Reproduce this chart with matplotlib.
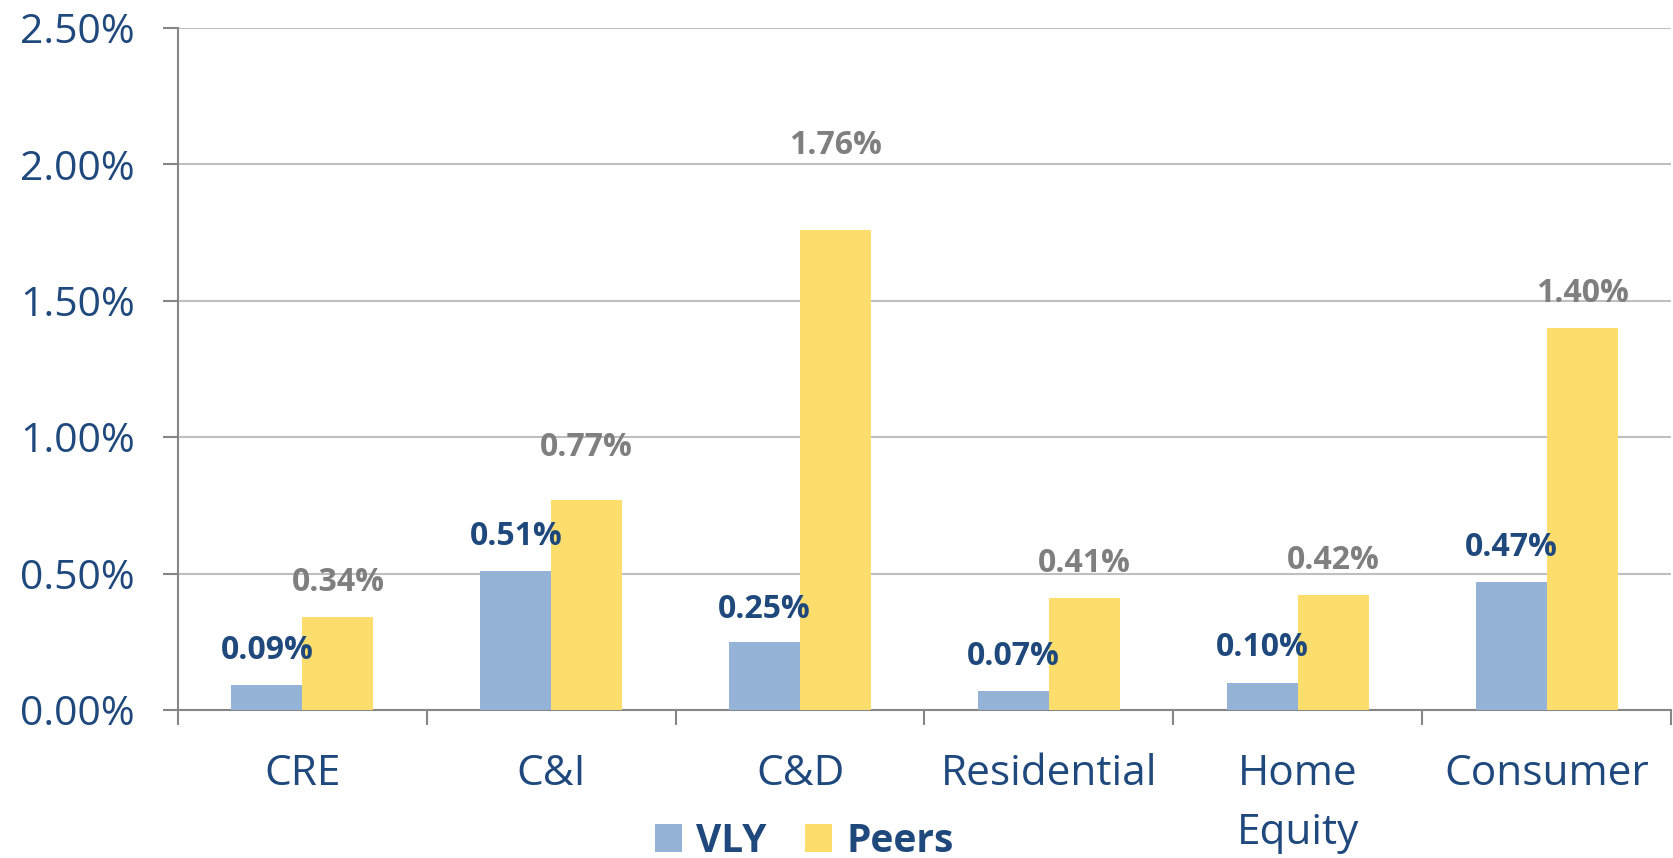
import matplotlib
matplotlib.use("Agg")
import matplotlib.pyplot as plt
import numpy as np
from matplotlib.ticker import FixedLocator, FuncFormatter

categories = ["CRE", "C&I", "C&D", "Residential", "Home\nEquity", "Consumer"]
vly = [0.09, 0.51, 0.25, 0.07, 0.10, 0.47]
peers = [0.34, 0.77, 1.76, 0.41, 0.42, 1.40]
yticks = [0.0, 0.5, 1.0, 1.5, 2.0, 2.5]

# label offsets above bar tops (points) - style only
vly_offsets = [25, 25, 23, 25, 25, 25]
peers_offsets = [25, 38, 61, 25, 25, 25]

plt.rcParams['font.family'] = ['Open Sans', 'DejaVu Sans']

BLUE = "#95B3D7"
YELLOW = "#FDDE6C"
DARK = "#1F497D"
GREY = "#7F7F7F"

fig = plt.figure(figsize=(16.74, 8.58), dpi=100)
ax = fig.add_axes([178/1674, 1 - 710/858, (1671-178)/1674, (710-28)/858])

x = np.arange(len(categories))
w = 0.285
b1 = ax.bar(x - w/2, vly, w, color=BLUE, label="VLY", zorder=3)
b2 = ax.bar(x + w/2, peers, w, color=YELLOW, label="Peers", zorder=3)

for xi, v, o in zip(x, vly, vly_offsets):
    ax.annotate(f"{v:.2f}%", (xi - w/2, v), xytext=(0, o), textcoords="offset points",
                ha="center", va="center", fontsize=23, fontweight="bold", color=DARK, zorder=5)
for xi, v, o in zip(x, peers, peers_offsets):
    ax.annotate(f"{v:.2f}%", (xi + w/2, v), xytext=(0, o), textcoords="offset points",
                ha="center", va="center", fontsize=23, fontweight="bold", color=GREY, zorder=5)

ax.set_xlim(-0.5, len(categories) - 0.5)
ax.set_ylim(0, 2.5)
ax.set_yticks(yticks)
ax.yaxis.set_major_formatter(FuncFormatter(lambda v, p: f"{v:.2f}%"))
ax.yaxis.grid(True, color="#BFBFBF", linewidth=1.5, zorder=0)
ax.set_axisbelow(True)

ax.xaxis.set_major_locator(FixedLocator(np.arange(-0.5, len(categories), 1.0)))
ax.xaxis.set_major_formatter(plt.NullFormatter())
ax.xaxis.set_minor_locator(FixedLocator(x))
ax.set_xticklabels(categories, minor=True)
ax.tick_params(axis="x", which="minor", length=0, pad=31, labelsize=30.5, labelcolor=DARK)
ax.tick_params(axis="x", which="major", length=11, width=1.5, color="#868686", direction="out")
ax.tick_params(axis="y", length=11, width=1.5, color="#868686", pad=20, labelsize=29.5, labelcolor=DARK)
for lbl in ax.get_xticklabels(minor=True):
    lbl.set_linespacing(1.52)

for s in ["top", "right"]:
    ax.spines[s].set_visible(False)
for s in ["left", "bottom"]:
    ax.spines[s].set_color("#868686")
    ax.spines[s].set_linewidth(1.5)

leg = fig.legend(handles=[b1, b2], loc="center left", bbox_to_anchor=(655/1674, 17/858),
                 frameon=False, ncol=2, prop={"size": 28, "weight": "bold"},
                 handlelength=0.7, handleheight=0.7, handletextpad=0.35,
                 columnspacing=1.0, borderpad=0, borderaxespad=0)
for t in leg.get_texts():
    t.set_color(DARK)

fig.savefig("out.png", dpi=100)
